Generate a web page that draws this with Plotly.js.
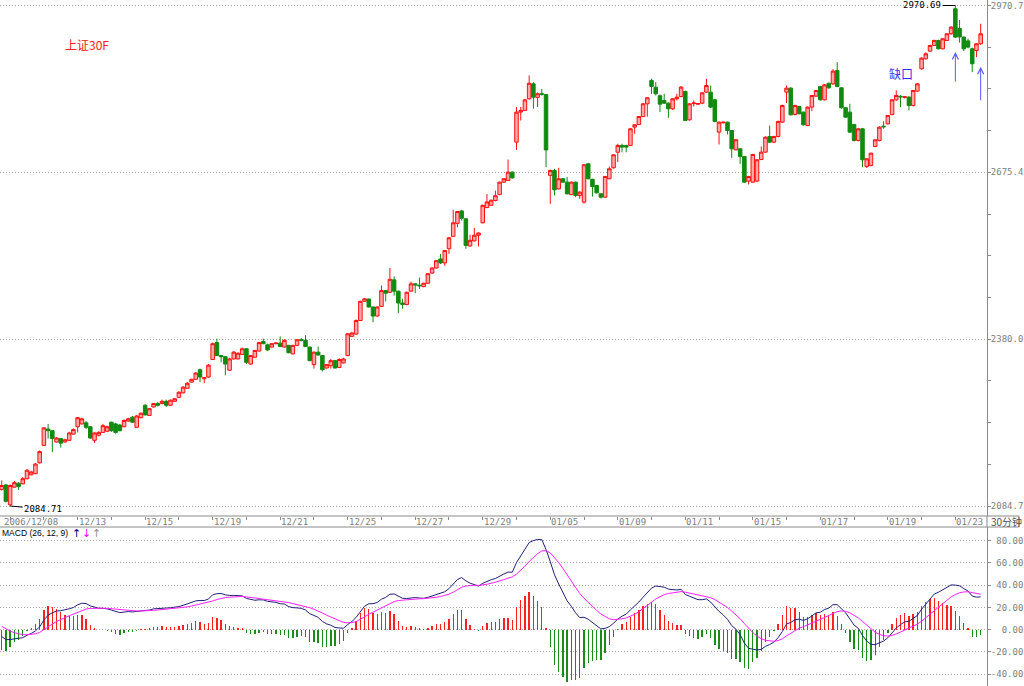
<!DOCTYPE html>
<html><head><meta charset="utf-8">
<script src="https://cdn.plot.ly/plotly-3.0.1.min.js"></script>
<style>html,body{margin:0;padding:0;background:#fff;}#chart{width:1024px;height:686px;}</style>
</head><body><div id="chart"></div>
<script>
// ---- 30-minute bars (index 0 = first visible bar, 2006/12/08) ----
const openP = [2114,2122,2087,2118,2125,2124,2133,2140,2142,2161,2192,2221,2218,2198,2204,2198,2201,2212,2225,2230,
2232,2225,2201,2210,2215,2217,2233,2230,2228,2225,2235,2242,2224,2241,2263,2245,2260,2266,2266,2270,
2263,2270,2277,2285,2293,2304,2309,2326,2310,2313,2344,2374,2351,2349,2325,2345,2345,2353,2363,2336,
2348,2359,2376,2370,2366,2372,2373,2366,2369,2354,2369,2379,2378,2366,2335,2357,2351,2329,2333,2342,
2330,2338,2351,2385,2389,2413,2447,2451,2437,2421,2438,2466,2463,2485,2465,2444,2441.5,2465,2478,2475.5,
2473,2479,2497,2506,2522,2515,2540,2562,2585,2607,2593,2545,2554,2564,2586,2613,2617,2625.5,2636,2658,
2661,2675.7,2728.8,2782,2785,2805.5,2832,2808,2814.5,2813,2670,2678.6,2646,2664,2658,2636,2658,2634.4,2622.6,2690.4,
2663,2652,2637.4,2631.4,2664,2683.4,2711,2723,2723,2723,2755.3,2760,2774,2796.6,2838,2826,2811,2802.6,2797.8,2787.8,
2805.5,2809.6,2818.5,2768.3,2797,2796,2797.8,2817.3,2817.3,2803.7,2746.5,2763,2764.2,2749.4,2715.2,2717,2703.4,2659.8,2658,2659.8,
2698.1,2711.1,2738.8,2728.8,2738.8,2764.2,2817.3,2824.4,2777.8,2791.9,2781.9,2758.3,2790.8,2810.2,2827.3,2803.7,2833,2832,2855.7,2825,
2789.6,2781.9,2760,2731.8,2752.4,2685.7,2687.5,2721.1,2731.8,2757,2761.2,2777.8,2803.7,2810,2808,2808.5,2793.7,2819.1,2858.6,2876.3,
2889.9,2899.9,2908.8,2894,2908.8,2920.6,2964.8,2930,2914.7,2908,2894,2891,2902.9];
const highP = [2130,2124,2123,2129,2127,2136,2150,2147,2161,2183,2224,2230,2219,2207,2205,2204,2216,2222,2242,2241,
2235,2226,2215,2217,2230,2227,2234,2232,2230,2238,2241,2244,2246,2250,2265,2258,2267,2269,2273,2273,
2273,2276,2288,2297,2304,2310,2322,2328,2313,2336,2374,2381,2352,2350,2347,2359,2357,2365,2364,2352,
2361,2375,2381,2372,2373,2375,2385,2380,2370,2370,2380,2382,2387,2367,2358,2367,2352,2336,2345,2343,
2346,2347,2391,2393,2415,2448,2453,2452,2438,2438,2475,2467,2506,2491,2466,2451.5,2464,2482,2479,2489,
2480,2497,2507,2520,2531,2538,2561,2609,2607,2609,2594,2565,2577,2569,2618,2637,2627,2643,2659,2665,
2698,2677,2790.8,2791,2805,2847,2835,2817,2823,2814,2680,2681.6,2683.4,2665,2667,2659,2659,2642,2690,2692,
2664,2653,2638,2669,2685.7,2707,2726,2726,2724,2754,2761,2775,2798,2808,2841,2835,2813,2814.4,2799,2807,
2814.4,2828,2820,2798,2802.6,2798,2817,2840.9,2829,2805,2765,2765,2765,2750,2734,2718,2704,2669,2708,2699,
2721.1,2739,2758.3,2740,2767,2795,2829,2826,2795,2793,2783,2792,2812,2821,2828.5,2831.5,2834,2858,2870.4,2826,
2790.8,2796.6,2761,2754,2754,2700,2710,2734,2757,2766,2777,2805,2820.3,2812,2810,2810,2821,2833,2879,2888,
2901,2910,2910,2913,2922,2934,2970.69,2945,2916,2912,2896,2904,2938.3];
const lowP = [2112,2091,2084.71,2117,2113,2123,2132,2139,2141,2160,2191,2204,2180,2197,2188,2197,2200,2211,2215,2229,
2221,2204,2196,2208,2214,2216,2216,2213,2217,2224,2234,2232,2223,2240,2245,2244,2259,2261,2265,2260,
2262,2269,2276,2284,2292,2303,2308,2304,2302,2312,2343,2350,2339,2316,2324,2344,2344,2352,2336,2335,
2347,2358,2371,2359,2365,2371,2366,2365,2355,2353,2368,2376,2366,2341,2328,2351,2323,2328,2328,2328,
2329,2337,2350,2384,2388,2412,2446,2436,2410,2420,2437,2447,2462,2457,2426,2434,2440,2464,2461.5,2469,
2472,2478,2496,2505,2513,2510,2531,2561,2578,2590,2540,2544,2553,2544,2585,2612,2616,2624,2635,2657,
2660,2664,2715,2767,2784,2804,2788,2791,2811,2684.6,2619.6,2634.4,2645,2657,2636,2635,2631.4,2628.5,2620,2663,
2632.6,2638,2629,2630,2663,2682,2693.4,2711,2711,2722,2743.5,2759,2773,2774,2814.4,2811.4,2782,2796.6,2771.9,2786,
2802.6,2808,2766,2767,2791.9,2795,2796,2816,2789,2764,2724.6,2762,2742.4,2701,2714,2690.4,2657,2653.9,2657,2658,
2697,2710,2727,2727,2737,2763,2797.8,2776,2776,2778,2758,2757,2783.6,2809,2802.6,2802.6,2823,2830,2826,2788,
2772,2745,2730,2730,2684.5,2683,2686,2720,2730,2752.4,2760,2776,2802,2790.8,2806,2784.9,2792,2818,2857,2875,
2889,2899,2893,2893,2908,2919,2913,2905,2890,2895,2852.7,2879.3,2901];
const closeP = [2121,2093,2121,2126,2119,2133,2148,2145,2159,2181,2223,2218,2204,2205,2196,2202,2214,2220,2241,2239,
2224,2205,2214,2215,2227,2225,2218,2215,2218,2236,2239,2233,2244,2249,2246,2257,2266,2263,2270,2263,
2272,2274.5,2286,2295,2302,2309,2320,2313,2312,2334,2372,2351,2349,2336,2345,2357,2355,2363,2339,2351,
2360,2374,2372,2361,2372,2373,2367,2378,2356,2369,2379,2378,2367,2342,2357,2352,2326,2335,2342,2329,
2344,2345,2389.5,2391,2413,2447,2451.5,2437,2421,2437,2466,2461.5,2486,2465,2444,2441.5,2463,2478,2476,2474.5,
2479,2496,2506,2519,2515,2537,2559.5,2586,2606,2594,2546,2555,2564,2568,2617,2623,2626,2634,2658,2664,
2675.7,2665.6,2781.9,2785,2803.7,2833,2808.4,2814.4,2813.5,2715,2678.6,2644.4,2664,2658,2637.4,2658,2634.4,2640.3,2688.7,2664,
2650,2639,2631.4,2668,2681.6,2706.4,2723,2720,2720,2752.4,2759.5,2774.2,2796.6,2807.3,2827.3,2814.4,2796,2797.8,2787.8,2805.5,
2808.4,2826.2,2767.2,2796.6,2798,2797,2816.1,2829,2790.8,2765.4,2764.2,2764,2749.4,2717,2733,2703.4,2658,2668,2707,2697.5,
2711.1,2737.6,2728.8,2738.8,2765.4,2793.7,2824.4,2777.2,2793.7,2779,2759.5,2790.8,2811.4,2820.2,2803.7,2830.3,2825,2854.5,2827.3,2789.6,
2773,2746.5,2731.8,2752.4,2697.5,2699.3,2709.3,2732.9,2755.3,2756,2776,2803.7,2811.4,2809,2809,2793.7,2820.3,2832,2877.5,2885.2,
2899.9,2908.8,2894,2911.7,2920.6,2932.4,2914.7,2915,2894,2897,2867.5,2902.9,2920.6];

// trading days and the index of each day's first 30-minute bar
const dayNames    = ['12/11','12/12','12/13','12/14','12/15','12/18','12/19','12/20','12/21','12/22','12/25','12/26','12/27','12/28','12/29','01/04','01/05','01/08','01/09','01/10','01/11','01/12','01/15','01/16','01/17','01/18','01/19','01/22','01/23'];
const dayFirstBar = [2,10,18,26,34,42,50,58,66,74,82,90,98,106,114,122,130,138,146,154,162,170,178,186,194,202,210,218,226];
const labeledDays = ['12/13','12/15','12/19','12/21','12/25','12/27','12/29','01/05','01/09','01/11','01/15','01/17','01/19','01/23'];

// axis labels
const priceTicks = [2084.71, 2380.0, 2675.4, 2970.7];
const priceTickText = ['2084.7','2380.0','2675.4','2970.7'];
const macdTicks = [-40,-20,0,20,40,60,80];
const macdTickText = ['-40.00','-20.00','0.00','20.00','40.00','60.00','80.00'];

// MACD(26,12,9) state at the first visible bar (DIF≈-6, DEA≈3)
const macdSeed = [2135, 2141, 3]; // EMA12, EMA26, DEA

const idx = closeP.map((_, i) => i);
const dif = [], dea = [], hist = [];
let e12 = macdSeed[0], e26 = macdSeed[1], d = macdSeed[2];
closeP.forEach((c, i) => {
  if (i > 0) {
    e12 = e12 * 11 / 13 + c * 2 / 13;
    e26 = e26 * 25 / 27 + c * 2 / 27;
  }
  const df = e12 - e26;
  if (i > 0) d = d * 8 / 10 + df * 2 / 10;
  dif.push(df); dea.push(d); hist.push(2 * (df - d));
});

const H = 686, W = 987;
const py = y => 1 - y / H;
const padL = (s, n) => '\u00a0'.repeat(Math.max(0, n - s.length)) + s;

const mono = {family: 'DejaVu Sans Mono, monospace', size: 9, color: '#808080'};

const traces = [
  {type: 'candlestick', x: idx, open: openP, high: highP, low: lowP, close: closeP,
   xaxis: 'x', yaxis: 'y', whiskerwidth: 0, hoverinfo: 'skip',
   increasing: {line: {color: '#ff1010', width: 1}, fillcolor: '#ffa8a8'},
   decreasing: {line: {color: '#108a10', width: 1}, fillcolor: '#108a10'}},
  {type: 'bar', x: idx, y: hist, xaxis: 'x2', yaxis: 'y2', width: 0.32, hoverinfo: 'skip',
   marker: {color: hist.map(v => v >= 0 ? '#ff2020' : '#1a8c1a'), line: {width: 0}}},
  {type: 'scatter', mode: 'lines', x: idx, y: dif, xaxis: 'x2', yaxis: 'y2', hoverinfo: 'skip',
   line: {color: '#20207a', width: 1}},
  {type: 'scatter', mode: 'lines', x: idx, y: dea, xaxis: 'x2', yaxis: 'y2', hoverinfo: 'skip',
   line: {color: '#ff20ff', width: 1}}
];

const annotations = [
  {xref: 'paper', yref: 'paper', x: 63 / W, y: py(45), xanchor: 'left', yanchor: 'middle', showarrow: false,
   text: '上证30F', font: {family: 'Noto Sans CJK SC', size: 12, color: '#ff2020'}},
  {xref: 'paper', yref: 'paper', x: 887 / W, y: py(73), xanchor: 'left', yanchor: 'middle', showarrow: false,
   text: '缺口', font: {family: 'Noto Sans CJK SC', size: 12, color: '#3030f0'}},
  {xref: 'x', yref: 'y', x: 226, y: highP[226], text: '2970.69', showarrow: true, arrowhead: 0, arrowwidth: 1,
   arrowcolor: '#000', ax: -33, ay: 0, font: {family: 'DejaVu Sans Mono, monospace', size: 9, color: '#000'}},
  {xref: 'x', yref: 'y', x: 2, y: lowP[2], text: '2084.71', showarrow: true, arrowhead: 0, arrowwidth: 1,
   arrowcolor: '#000', ax: 33, ay: 3, font: {family: 'DejaVu Sans Mono, monospace', size: 9, color: '#000'}},
  {xref: 'x', yref: 'y', x: 226, y: lowP[226], text: '', showarrow: true, arrowhead: 5, arrowsize: 1.2, arrowwidth: 1,
   arrowcolor: '#5a5aff', ax: 0, ay: 45, standoff: 14},
  {xref: 'x', yref: 'y', x: 232, y: lowP[232], text: '', showarrow: true, arrowhead: 5, arrowsize: 1.2, arrowwidth: 1,
   arrowcolor: '#5a5aff', ax: 0, ay: 57, standoff: 22},
  {xref: 'paper', yref: 'paper', x: 0, y: py(533), xanchor: 'left', yanchor: 'middle', showarrow: false,
   text: 'MACD (26, 12, 9)', font: {family: 'Liberation Sans, Arial', size: 8.5, color: '#000'}},
  {xref: 'paper', yref: 'paper', x: 70 / W, y: py(533), xanchor: 'left', yanchor: 'middle', showarrow: false,
   text: '↑', font: {family: 'DejaVu Sans', size: 11, color: '#000080'}},
  {xref: 'paper', yref: 'paper', x: 80 / W, y: py(533), xanchor: 'left', yanchor: 'middle', showarrow: false,
   text: '↓', font: {family: 'DejaVu Sans', size: 11, color: '#ff00ff'}},
  {xref: 'paper', yref: 'paper', x: 90 / W, y: py(533), xanchor: 'left', yanchor: 'middle', showarrow: false,
   text: '↑', font: {family: 'DejaVu Sans', size: 11, color: '#909090'}},
  {xref: 'paper', yref: 'paper', x: 0.002, y: py(521.5), xanchor: 'left', yanchor: 'middle', showarrow: false,
   text: '2006/12/08', font: mono},
  {xref: 'paper', yref: 'paper', x: 989 / W, y: py(521.5), xanchor: 'left', yanchor: 'middle', showarrow: false,
   text: '30分钟', font: {family: 'Noto Sans CJK SC', size: 10, color: '#505050'}}
];
labeledDays.forEach(lbl => {
  const k = dayNames.indexOf(lbl);
  annotations.push({xref: 'x', yref: 'paper', x: dayFirstBar[k], y: py(521.5), xanchor: 'left', yanchor: 'middle',
    showarrow: false, text: lbl, font: mono, xshift: -1});
});

const lineC = '#8a8a8a';
const shapes = [
  {type: 'line', xref: 'paper', yref: 'paper', x0: 0, x1: 1019 / W, y0: py(516), y1: py(516), line: {color: lineC, width: 1}},
  {type: 'line', xref: 'paper', yref: 'paper', x0: 0, x1: 1019 / W, y0: py(527), y1: py(527), line: {color: lineC, width: 1}},
  {type: 'line', xref: 'paper', yref: 'paper', x0: 1, x1: 1, y0: py(527), y1: py(516), line: {color: lineC, width: 1}},
  {type: 'line', xref: 'paper', yref: 'paper', x0: 1019 / W, x1: 1019 / W, y0: py(527), y1: py(516), line: {color: lineC, width: 1}}
];

const gridDash = '1px,2px';
const layout = {
  width: 1024, height: 686, margin: {l: 0, r: 37, t: 0, b: 0},
  paper_bgcolor: '#fff', plot_bgcolor: '#fff', showlegend: false,
  boxgap: 0.12, boxgroupgap: 0.05, bargap: 0,
  xaxis: {domain: [0, 1], range: [-0.4, 233.5], anchor: 'y', showgrid: false, zeroline: false,
    showticklabels: false, ticks: 'outside', tickmode: 'array', tickvals: dayFirstBar, ticklen: 3,
    tickcolor: lineC, showline: false, rangeslider: {visible: false}, fixedrange: true},
  xaxis2: {domain: [0, 1], range: [-0.4, 233.5], anchor: 'y2', showgrid: false, zeroline: false,
    showticklabels: false, ticks: '', showline: false, fixedrange: true},
  yaxis: {domain: [1 - 516 / H, 1], range: [2067.0, 2980.4], anchor: 'x', side: 'right',
    tickmode: 'array', tickvals: priceTicks, ticktext: priceTickText, tickfont: mono,
    ticks: 'outside', ticklen: 3, tickcolor: lineC, showline: true, linecolor: lineC, linewidth: 1,
    ticklabelstandoff: -2,
    showgrid: true, gridcolor: '#a8a8a8', griddash: gridDash, gridwidth: 1, zeroline: false,
    minor: {tickmode: 'linear', tick0: 2084.71, dtick: 73.8225, ticks: 'outside', ticklen: 3, tickcolor: lineC, showgrid: false},
    fixedrange: true},
  yaxis2: {domain: [0, 1 - 527 / H], range: [-50.6, 92.3], anchor: 'x2', side: 'right',
    tickmode: 'array', tickvals: macdTicks, ticktext: macdTickText.map(s => padL(s, 6)), tickfont: mono,
    ticks: 'outside', ticklen: 3, tickcolor: lineC, showline: true, linecolor: lineC, linewidth: 1,
    ticklabelstandoff: -2,
    showgrid: true, gridcolor: '#a8a8a8', griddash: gridDash, gridwidth: 1, zeroline: false, fixedrange: true},
  annotations: annotations, shapes: shapes
};

Plotly.newPlot('chart', traces, layout, {staticPlot: true, displayModeBar: false});
</script></body></html>
